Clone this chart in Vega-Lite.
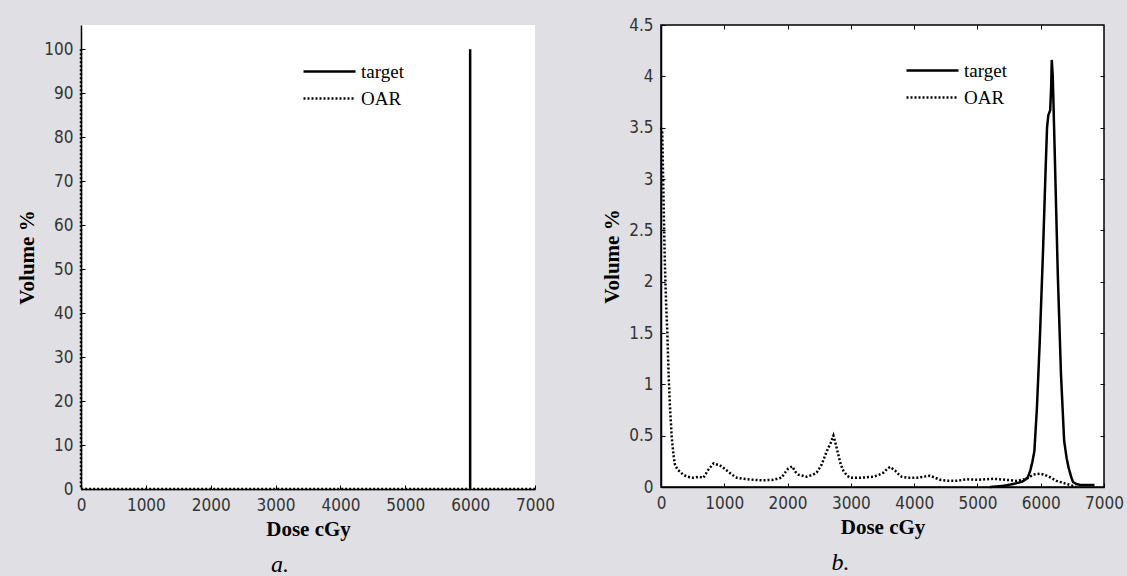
{
  "$schema": "https://vega.github.io/schema/vega-lite/v6.json",
  "background": "#e0e0e4",
  "padding": {"left": 16, "top": 15, "right": 5, "bottom": 5},
  "bounds": "flush",
  "spacing": 126,
  "datasets": {
    "a": [
      {"series": "target", "dose": 6000, "volume": 0},
      {"series": "target", "dose": 6000, "volume": 100},
      {"series": "OAR", "dose": 0, "volume": 100},
      {"series": "OAR", "dose": 0, "volume": 0},
      {"series": "OAR", "dose": 7000, "volume": 0}
    ],
    "b": [
      {"series": "target", "dose": 5200, "volume": 0.0},
      {"series": "target", "dose": 5400, "volume": 0.01},
      {"series": "target", "dose": 5570, "volume": 0.03},
      {"series": "target", "dose": 5700, "volume": 0.05},
      {"series": "target", "dose": 5755, "volume": 0.07},
      {"series": "target", "dose": 5800, "volume": 0.1},
      {"series": "target", "dose": 5835, "volume": 0.16},
      {"series": "target", "dose": 5870, "volume": 0.25},
      {"series": "target", "dose": 5900, "volume": 0.35},
      {"series": "target", "dose": 5940, "volume": 0.77},
      {"series": "target", "dose": 5985, "volume": 1.42},
      {"series": "target", "dose": 6035, "volume": 2.27},
      {"series": "target", "dose": 6075, "volume": 3.05},
      {"series": "target", "dose": 6100, "volume": 3.5},
      {"series": "target", "dose": 6120, "volume": 3.62},
      {"series": "target", "dose": 6150, "volume": 3.67},
      {"series": "target", "dose": 6165, "volume": 3.9},
      {"series": "target", "dose": 6175, "volume": 4.16},
      {"series": "target", "dose": 6190, "volume": 4.0},
      {"series": "target", "dose": 6200, "volume": 3.78},
      {"series": "target", "dose": 6230, "volume": 3.05},
      {"series": "target", "dose": 6270, "volume": 2.07},
      {"series": "target", "dose": 6320, "volume": 1.1},
      {"series": "target", "dose": 6370, "volume": 0.45},
      {"series": "target", "dose": 6410, "volume": 0.28},
      {"series": "target", "dose": 6440, "volume": 0.19},
      {"series": "target", "dose": 6480, "volume": 0.1},
      {"series": "target", "dose": 6510, "volume": 0.05},
      {"series": "target", "dose": 6560, "volume": 0.03},
      {"series": "target", "dose": 6620, "volume": 0.02},
      {"series": "target", "dose": 6850, "volume": 0.02},
      {"series": "OAR", "dose": 0, "volume": 3.5},
      {"series": "OAR", "dose": 20, "volume": 3.45},
      {"series": "OAR", "dose": 40, "volume": 2.8},
      {"series": "OAR", "dose": 60, "volume": 2.2},
      {"series": "OAR", "dose": 80, "volume": 1.8},
      {"series": "OAR", "dose": 100, "volume": 1.5},
      {"series": "OAR", "dose": 120, "volume": 1.1},
      {"series": "OAR", "dose": 140, "volume": 0.8},
      {"series": "OAR", "dose": 170, "volume": 0.48},
      {"series": "OAR", "dose": 200, "volume": 0.3},
      {"series": "OAR", "dose": 220, "volume": 0.22},
      {"series": "OAR", "dose": 260, "volume": 0.17},
      {"series": "OAR", "dose": 300, "volume": 0.15},
      {"series": "OAR", "dose": 350, "volume": 0.12},
      {"series": "OAR", "dose": 420, "volume": 0.1},
      {"series": "OAR", "dose": 510, "volume": 0.09},
      {"series": "OAR", "dose": 600, "volume": 0.1},
      {"series": "OAR", "dose": 670, "volume": 0.09},
      {"series": "OAR", "dose": 750, "volume": 0.17},
      {"series": "OAR", "dose": 830, "volume": 0.23},
      {"series": "OAR", "dose": 870, "volume": 0.22},
      {"series": "OAR", "dose": 910, "volume": 0.22},
      {"series": "OAR", "dose": 980, "volume": 0.19},
      {"series": "OAR", "dose": 1040, "volume": 0.16},
      {"series": "OAR", "dose": 1120, "volume": 0.12},
      {"series": "OAR", "dose": 1200, "volume": 0.09},
      {"series": "OAR", "dose": 1300, "volume": 0.08},
      {"series": "OAR", "dose": 1460, "volume": 0.07},
      {"series": "OAR", "dose": 1600, "volume": 0.065},
      {"series": "OAR", "dose": 1775, "volume": 0.07},
      {"series": "OAR", "dose": 1905, "volume": 0.09},
      {"series": "OAR", "dose": 1960, "volume": 0.14},
      {"series": "OAR", "dose": 2010, "volume": 0.18},
      {"series": "OAR", "dose": 2075, "volume": 0.2},
      {"series": "OAR", "dose": 2120, "volume": 0.15},
      {"series": "OAR", "dose": 2170, "volume": 0.12},
      {"series": "OAR", "dose": 2300, "volume": 0.1},
      {"series": "OAR", "dose": 2400, "volume": 0.12},
      {"series": "OAR", "dose": 2460, "volume": 0.14},
      {"series": "OAR", "dose": 2540, "volume": 0.22},
      {"series": "OAR", "dose": 2620, "volume": 0.35},
      {"series": "OAR", "dose": 2690, "volume": 0.44},
      {"series": "OAR", "dose": 2725, "volume": 0.5},
      {"series": "OAR", "dose": 2760, "volume": 0.42},
      {"series": "OAR", "dose": 2800, "volume": 0.32},
      {"series": "OAR", "dose": 2840, "volume": 0.22},
      {"series": "OAR", "dose": 2880, "volume": 0.16},
      {"series": "OAR", "dose": 2940, "volume": 0.11},
      {"series": "OAR", "dose": 2990, "volume": 0.09},
      {"series": "OAR", "dose": 3150, "volume": 0.09},
      {"series": "OAR", "dose": 3360, "volume": 0.1},
      {"series": "OAR", "dose": 3450, "volume": 0.12},
      {"series": "OAR", "dose": 3515, "volume": 0.14},
      {"series": "OAR", "dose": 3580, "volume": 0.18},
      {"series": "OAR", "dose": 3620, "volume": 0.195},
      {"series": "OAR", "dose": 3700, "volume": 0.16},
      {"series": "OAR", "dose": 3760, "volume": 0.12},
      {"series": "OAR", "dose": 3805, "volume": 0.1},
      {"series": "OAR", "dose": 3900, "volume": 0.09},
      {"series": "OAR", "dose": 4040, "volume": 0.09},
      {"series": "OAR", "dose": 4150, "volume": 0.1},
      {"series": "OAR", "dose": 4250, "volume": 0.11},
      {"series": "OAR", "dose": 4330, "volume": 0.09},
      {"series": "OAR", "dose": 4410, "volume": 0.07},
      {"series": "OAR", "dose": 4550, "volume": 0.06},
      {"series": "OAR", "dose": 4670, "volume": 0.06},
      {"series": "OAR", "dose": 4830, "volume": 0.075},
      {"series": "OAR", "dose": 5000, "volume": 0.07},
      {"series": "OAR", "dose": 5250, "volume": 0.08},
      {"series": "OAR", "dose": 5450, "volume": 0.07},
      {"series": "OAR", "dose": 5620, "volume": 0.06},
      {"series": "OAR", "dose": 5780, "volume": 0.08},
      {"series": "OAR", "dose": 5880, "volume": 0.12},
      {"series": "OAR", "dose": 5990, "volume": 0.13},
      {"series": "OAR", "dose": 6050, "volume": 0.12},
      {"series": "OAR", "dose": 6120, "volume": 0.105},
      {"series": "OAR", "dose": 6250, "volume": 0.06},
      {"series": "OAR", "dose": 6410, "volume": 0.03},
      {"series": "OAR", "dose": 6510, "volume": 0.01},
      {"series": "OAR", "dose": 6560, "volume": 0.0}
    ]
  },
  "config": {
    "view": {"fill": "white"},
    "axis": {
      "grid": false,
      "labelFont": "Liberation Sans Narrow, DejaVu Sans Condensed, sans-serif",
      "labelFontSize": 17,
      "labelColor": "#333333",
      "titleFont": "Liberation Serif",
      "titleFontWeight": "bold",
      "titleFontSize": 21,
      "titleColor": "black",
      "domainColor": "black",
      "domainWidth": 1.5,
      "tickColor": "black",
      "tickWidth": 1,
      "tickSize": -4
    },
    "legend": {
      "orient": "none",
      "title": null,
      "symbolType": "M-9.4,0L1,0",
      "symbolSize": 100,
      "symbolStrokeWidth": 2.5,
      "symbolStrokeColor": "black",
      "labelFont": "Liberation Serif",
      "labelFontSize": 19,
      "labelColor": "black",
      "labelOffset": 1,
      "rowPadding": 7
    }
  },
  "resolve": {"scale": {"strokeDash": "independent"}, "legend": {"strokeDash": "independent"}},
  "hconcat": [
    {
      "width": 454,
      "height": 464,
      "view": {"stroke": null, "fill": "white"},
      "title": {"text": "a.", "orient": "bottom", "frame": "group", "anchor": "middle", "dx": -28, "offset": 14, "font": "Liberation Serif", "fontStyle": "italic", "fontWeight": "normal", "fontSize": 24, "color": "black"},
      "data": {"name": "a"},
      "mark": {"type": "line", "strokeWidth": 2.5, "color": "black", "strokeCap": "butt"},
      "encoding": {
        "x": {"field": "dose", "type": "quantitative", "scale": {"domain": [0, 7000], "nice": false},
          "axis": {"values": [0, 1000, 2000, 3000, 4000, 5000, 6000, 7000], "format": "d", "title": "Dose cGy", "titleY": 40, "titleBaseline": "middle", "labelPadding": 12, "labelFlush": false}},
        "y": {"field": "volume", "type": "quantitative", "scale": {"domain": [0, 105.5], "nice": false},
          "axis": {"values": [0, 10, 20, 30, 40, 50, 60, 70, 80, 90, 100], "format": "d", "title": "Volume %", "titleX": -54, "titleBaseline": "middle", "labelPadding": 12}},
        "strokeDash": {"field": "series", "type": "nominal", "scale": {"domain": ["target", "OAR"], "range": [[1, 0], [2, 2]]},
          "legend": {"legendX": 260, "legendY": 37}}
      }
    },
    {
      "width": 443,
      "height": 462,
      "view": {"stroke": "black", "strokeWidth": 1.5, "fill": "white"},
      "title": {"text": "b.", "orient": "bottom", "frame": "group", "anchor": "middle", "dx": -42, "offset": 14, "font": "Liberation Serif", "fontStyle": "italic", "fontWeight": "normal", "fontSize": 24, "color": "black"},
      "data": {"name": "b"},
      "layer": [
        {
          "mark": {"type": "line", "strokeWidth": 2.5, "color": "black", "strokeCap": "butt"},
          "encoding": {
            "x": {"field": "dose", "type": "quantitative", "scale": {"domain": [0, 7000], "nice": false},
              "axis": {"values": [0, 1000, 2000, 3000, 4000, 5000, 6000, 7000], "format": "d", "title": "Dose cGy", "titleY": 40, "titleBaseline": "middle", "labelPadding": 12, "labelFlush": false}},
            "y": {"field": "volume", "type": "quantitative", "scale": {"domain": [0, 4.5], "nice": false},
              "axis": {"values": [0, 0.5, 1, 1.5, 2, 2.5, 3, 3.5, 4, 4.5], "format": "~g", "title": "Volume %", "titleX": -49, "titleBaseline": "middle", "labelPadding": 12}},
            "strokeDash": {"field": "series", "type": "nominal", "scale": {"domain": ["target", "OAR"], "range": [[1, 0], [2, 2]]},
              "legend": {"legendX": 283, "legendY": 36}}
          }
        },
        {
          "mark": {"type": "line", "strokeOpacity": 0},
          "encoding": {
            "x": {"field": "dose", "type": "quantitative",
              "axis": {"orient": "top", "values": [1000, 2000, 3000, 4000, 5000, 6000], "labels": false, "domain": false, "title": null}},
            "y": {"field": "volume", "type": "quantitative",
              "axis": {"orient": "right", "values": [0.5, 1, 1.5, 2, 2.5, 3, 3.5, 4], "labels": false, "domain": false, "title": null}},
            "detail": {"field": "series"}
          }
        }
      ],
      "resolve": {"axis": {"x": "independent", "y": "independent"}}
    }
  ]
}
